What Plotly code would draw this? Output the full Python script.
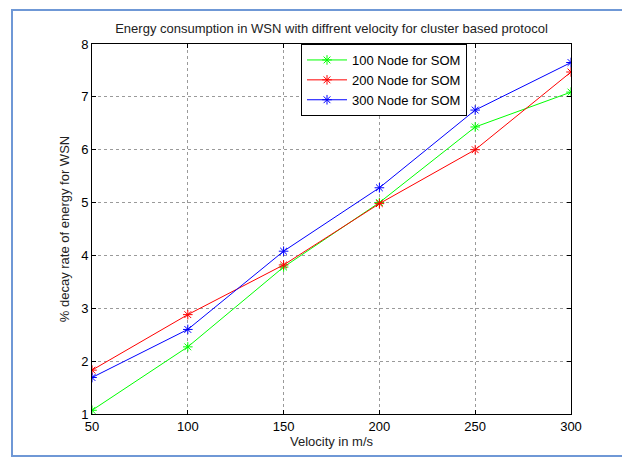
import plotly.graph_objects as go

velocity = [50, 100, 150, 200, 250, 300]
node100 = [1.07, 2.27, 3.78, 5.00, 6.43, 7.09]
node200 = [1.83, 2.88, 3.82, 4.98, 6.00, 7.47]
node300 = [1.69, 2.60, 4.08, 5.28, 6.75, 7.65]
names = ["100 Node for SOM", "200 Node for SOM", "300 Node for SOM"]
colors = ["#00ff00", "#ff0000", "#0000ff"]

fig = go.Figure()
for ys, nm, c in zip([node100, node200, node300], names, colors):
    fig.add_trace(go.Scatter(
        x=velocity, y=ys, name=nm, mode="lines+markers",
        line=dict(color=c, width=1),
        marker=dict(symbol="asterisk-open", size=8, color=c, line=dict(color=c, width=1)),
    ))

FONT = "Liberation Sans, Arial, sans-serif"
axis_common = dict(
    showline=True, linecolor="black", linewidth=1, mirror="ticks",
    ticks="inside", ticklen=4, tickcolor="black",
    showgrid=True, gridcolor="#9a9a9a", griddash="dot", gridwidth=1,
    zeroline=False, tickfont=dict(family=FONT, size=13, color="black"),
)

# page body has an 8px offset; figure coords = screen - 8
L, R, T, B = 84, 67, 36, 53
PW, PH = 630 - L - R, 459 - T - B

fig.update_layout(
    width=630, height=459,
    margin=dict(l=L, r=R, t=T, b=B),
    paper_bgcolor="white", plot_bgcolor="white",
    font=dict(family=FONT, size=13, color="#222222"),
    title=dict(text="Energy consumption in WSN with diffrent velocity for cluster based protocol",
               x=(L + PW / 2) / 630, xanchor="center", y=1 - 20 / 459, yanchor="middle",
               font=dict(family=FONT, size=13, color="#222222")),
    xaxis=dict(range=[50, 300], tickvals=[50, 100, 150, 200, 250, 300],
               title=dict(text="Velocity in m/s", standoff=3, font=dict(family=FONT, size=13, color="#222222")),
               **axis_common),
    yaxis=dict(range=[1, 8], tickvals=[1, 2, 3, 4, 5, 6, 7, 8],
               title=dict(text="% decay rate of energy for WSN", standoff=8, font=dict(family=FONT, size=13, color="#222222")),
               **axis_common),
    legend=dict(x=(293 - L) / PW, y=1.0, xanchor="left", yanchor="top",
                bgcolor="white", bordercolor="black", borderwidth=1,
                font=dict(family=FONT, size=13, color="black"),
                itemwidth=40, tracegroupgap=0),
    showlegend=True,
)

fig.add_shape(type="rect", xref="paper", yref="paper",
              x0=(4 - L) / PW, x1=(620 - L) / PW,
              y0=(T + PH - 448) / PH, y1=(T + PH - 2) / PH,
              line=dict(color="#6f98d6", width=2), fillcolor="rgba(0,0,0,0)", layer="below")

fig.write_html("out.html")
